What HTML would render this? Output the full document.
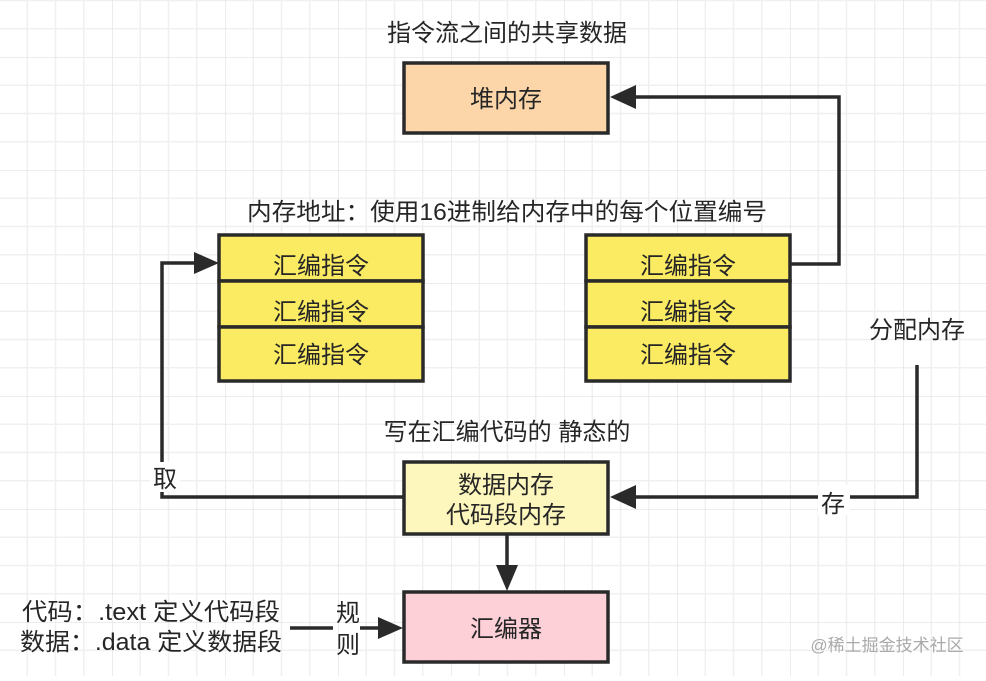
<!DOCTYPE html>
<html><head><meta charset="utf-8"><style>
html,body{margin:0;padding:0;background:#fff}
svg text{font-family:"Liberation Sans","Noto Sans CJK SC",sans-serif;fill:#262626;font-size:24px}
</style></head><body>
<svg width="986" height="676" viewBox="0 0 986 676" xmlns="http://www.w3.org/2000/svg">
<defs>
<pattern id="g" width="113" height="113" patternUnits="userSpaceOnUse" x="-1" y="-56">
<path d="M28.25 0V113M56.5 0V113M84.75 0V113M0 28.25H113M0 56.5H113M0 84.75H113" stroke="#f0f0f0" stroke-width="1.5" fill="none"/>
<path d="M0 0V113M0 0H113" stroke="#e6e6e6" stroke-width="1.5" fill="none"/>
</pattern>
</defs>
<rect width="986" height="676" fill="url(#g)"/>
<g stroke="#2a2a2a" stroke-width="3.5" fill="none">
<path d="M790 264H839V97H630"/>
<path d="M403 497H162V263H200"/>
<path d="M917 365V497H630"/>
<path d="M507 534V570"/>
<path d="M290 628H333M360 628H385"/>
</g>
<g fill="#2a2a2a">
<path d="M610 97l26-12v24z"/>
<path d="M219 263l-25-11v22z"/>
<path d="M610 497l26-12v24z"/>
<path d="M507 591l-11-26h22z"/>
<path d="M403 628l-25-11v22z"/>
</g>
<rect x="818" y="485" width="32" height="30" fill="#fff"/>
<rect x="150" y="462" width="30" height="30" fill="#fff"/>
<g stroke="#2a2a2a" stroke-width="3.5">
<rect x="404" y="63" width="204" height="70" fill="#fcd5a8"/>
<rect x="219" y="235" width="204" height="46" fill="#fbeb63"/>
<rect x="219" y="281" width="204" height="46" fill="#fbeb63"/>
<rect x="219" y="327" width="204" height="54" fill="#fbeb63"/>
<rect x="586" y="235" width="204" height="46" fill="#fbeb63"/>
<rect x="586" y="281" width="204" height="46" fill="#fbeb63"/>
<rect x="586" y="327" width="204" height="54" fill="#fbeb63"/>
<rect x="404" y="462" width="204" height="72" fill="#fdf6bd"/>
<rect x="404" y="592" width="204" height="70" fill="#fdd0d8"/>
</g>
<g text-anchor="middle">
<text x="507" y="41">指令流之间的共享数据</text>
<text x="506" y="107">堆内存</text>
<text x="507" y="220" textLength="520" lengthAdjust="spacingAndGlyphs">内存地址：使用16进制给内存中的每个位置编号</text>
<text x="321" y="274">汇编指令</text>
<text x="321" y="320">汇编指令</text>
<text x="321" y="363">汇编指令</text>
<text x="688" y="274">汇编指令</text>
<text x="688" y="320">汇编指令</text>
<text x="688" y="363">汇编指令</text>
<text x="917" y="338">分配内存</text>
<text x="507" y="440">写在汇编代码的 静态的</text>
<text x="506" y="493">数据内存</text>
<text x="506" y="523">代码段内存</text>
<text x="165" y="487">取</text>
<text x="833" y="512">存</text>
<text x="506" y="637">汇编器</text>
<text x="348" y="621">规</text>
<text x="348" y="653">则</text>
<text x="151" y="620" textLength="258" lengthAdjust="spacingAndGlyphs">代码：.text 定义代码段</text>
<text x="151" y="650" textLength="262" lengthAdjust="spacingAndGlyphs">数据：.data 定义数据段</text>
<text x="887" y="651" style="font-size:17px;fill:#aaa">@稀土掘金技术社区</text>
</g>
</svg>
</body></html>
